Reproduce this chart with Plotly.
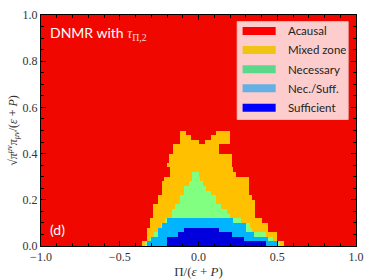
import numpy as np
import plotly.graph_objects as go

# ---- data ----
# class codes: 0 Acausal, 1 Mixed zone, 2 Necessary, 3 Nec./Suff., 4 Sufficient
labels = ["Acausal", "Mixed zone", "Necessary", "Nec./Suff.", "Sufficient"]
region_colors = ["#f00800", "#ffc000", "#80ff80", "#00b4ff", "#0000dc"]
legend_colors = ["#ff0000", "#f0c414", "#5ad88c", "#64b0e4", "#0000ff"]

# rows of the grid (y band centres, band height 0.02)
row_y = [0.01, 0.03, 0.05, 0.07, 0.09, 0.11, 0.13, 0.15, 0.17, 0.19, 0.21, 0.23,
         0.25, 0.27, 0.29, 0.31, 0.33, 0.35, 0.37, 0.39, 0.41, 0.43, 0.45, 0.47, 0.49]
mixed_left = [-0.36, -0.33, -0.33, -0.33, -0.31, -0.31, -0.29, -0.29, -0.29, -0.264, -0.264, -0.233,
              -0.233, -0.233, -0.222, -0.18, -0.18, -0.20, -0.19, -0.19, -0.163, -0.163, -0.12, -0.12, -0.12]
mixed_right = [0.54, 0.50, 0.50, 0.435, 0.435, 0.40, 0.36, 0.36, 0.36, 0.36, 0.34, 0.318,
               0.318, 0.318, 0.318, 0.24, 0.22, 0.21, 0.21, 0.21, 0.13, 0.13, 0.197, 0.197, 0.197]
notch_left = [None] * 22 + [0.0, -0.045, -0.075]
notch_right = [None] * 22 + [0.04, 0.08, 0.105]
nec_left = [-0.34, -0.307, -0.275, -0.243, -0.243, -0.21, -0.17, -0.17, -0.15, -0.116, -0.116, -0.085,
            -0.085, -0.06, -0.042, -0.042]
nec_right = [0.52, 0.47, 0.43, 0.34, 0.33, 0.27, 0.20, 0.18, 0.138, 0.106, 0.106, 0.08,
             0.053, 0.03, 0.01, 0.0]
ns_left = [-0.328, -0.296, -0.264, -0.264, -0.233, -0.2]
ns_right = [0.50, 0.435, 0.35, 0.30, 0.30, 0.22]
suff_left = [-0.2, -0.2, -0.13, -0.085]
suff_right = [0.43, 0.29, 0.21, 0.13]

# ---- build grid ----
xc = np.round(np.arange(-0.995, 1.0, 0.01), 3)
yc = np.round(np.arange(0.01, 1.0, 0.02), 3)
z = np.zeros((len(yc), len(xc)), dtype=int)
for i, yv in enumerate(row_y):
    r = z[i]
    r[(xc >= mixed_left[i]) & (xc <= mixed_right[i])] = 1
    if notch_left[i] is not None:
        r[(xc >= notch_left[i]) & (xc <= notch_right[i])] = 0
    if i < len(nec_left):
        r[(xc >= nec_left[i]) & (xc <= nec_right[i])] = 2
    if i < len(ns_left):
        r[(xc >= ns_left[i]) & (xc <= ns_right[i])] = 3
    if i < len(suff_left):
        r[(xc >= suff_left[i]) & (xc <= suff_right[i])] = 4

cs = []
n = len(region_colors)
for k, c in enumerate(region_colors):
    cs.append([k / n, c])
    cs.append([(k + 1) / n, c])

fig = go.Figure(go.Heatmap(x=xc, y=yc, z=z, colorscale=cs, zmin=-0.5, zmax=4.5,
                           showscale=False, hoverinfo="skip"))

serif = "Liberation Serif, DejaVu Serif, serif"
sans = "Lato, DejaVu Sans, sans-serif"

axis_common = dict(showline=True, linecolor="black", linewidth=1, mirror="ticks",
                   ticks="inside", ticklen=5, tickcolor="black", showgrid=False,
                   zeroline=False, automargin=False,
                   tickfont=dict(family=serif, size=12, color="#333"))
fig.update_xaxes(range=[-1, 1], dtick=0.5, tickformat=".1f",
                 minor=dict(ticks="inside", ticklen=3, dtick=0.1, tickcolor="black"),
                 title=dict(text="Π/(<i>ε</i> + <i>P</i>)", font=dict(family=serif, size=13, color="#333"),
                            standoff=2),
                 **axis_common)
fig.update_yaxes(range=[0, 1], dtick=0.2, tickformat=".1f",
                 minor=dict(ticks="inside", ticklen=3, dtick=0.05, tickcolor="black"),
                 title=dict(text="√<i>π</i><sup><i>μν</i></sup><i>π</i><sub><i>μν</i></sub>/(<i>ε</i> + <i>P</i>)",
                            font=dict(family=serif, size=12, color="#333"), standoff=2),
                 **axis_common)

# legend drawn as a box with patches
shapes = [dict(type="rect", xref="paper", yref="paper", x0=0.623, x1=0.975, y0=0.548, y1=0.971,
               fillcolor="rgba(255,255,255,0.8)", line=dict(color="rgba(230,200,200,1)", width=1))]
annotations = []
row_py = [31, 50, 69.3, 88.3, 107.7]
for lab, col, py in zip(labels, legend_colors, row_py):
    yp = (246 - py) / 231
    shapes.append(dict(type="rect", xref="paper", yref="paper", x0=0.640, x1=0.745,
                       y0=yp - 0.0175, y1=yp + 0.0175, fillcolor=col, line=dict(width=0)))
    annotations.append(dict(xref="paper", yref="paper", x=0.777, y=yp, text=lab, showarrow=False,
                            xanchor="left", yanchor="middle",
                            font=dict(family=sans, size=11.5, color="#222")))

annotations.append(dict(xref="paper", yref="paper", x=0.022, y=0.922,
                        text="DNMR with <span style='font-family:Liberation Serif;color:#ffd6d6'><i>τ</i><sub>Π,2</sub></span>",
                        showarrow=False, xanchor="left", yanchor="middle",
                        font=dict(family=sans, size=14, color="white")))
annotations.append(dict(xref="paper", yref="paper", x=0.022, y=0.07, text="(d)", showarrow=False,
                        xanchor="left", yanchor="middle", font=dict(family=sans, size=14, color="white")))

fig.update_layout(width=374, height=280, margin=dict(l=41, r=18, t=15, b=34, autoexpand=False),
                  paper_bgcolor="white", plot_bgcolor="white",
                  shapes=shapes, annotations=annotations, showlegend=False)

fig.write_html("out.html", config={"displayModeBar": False},
               post_script="document.body.style.margin='0';document.body.style.overflow='hidden';")
